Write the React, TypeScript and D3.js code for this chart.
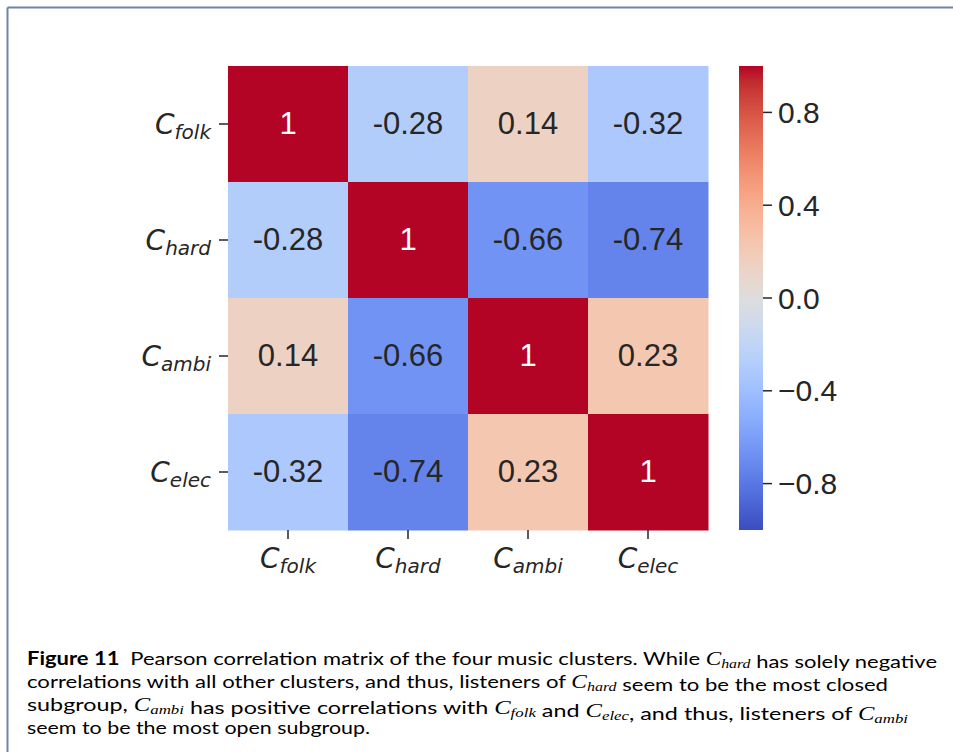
import React from "react";
import * as d3 from "d3";

const categories = ["folk", "hard", "ambi", "elec"];
const matrix = [
  [1, -0.28, 0.14, -0.32],
  [-0.28, 1, -0.66, -0.74],
  [0.14, -0.66, 1, 0.23],
  [-0.32, -0.74, 0.23, 1],
];
const cbarTicks = [-0.8, -0.4, 0.0, 0.4, 0.8];

// matplotlib coolwarm (Moreland) control points
const coolwarm = [
  [59, 76, 192], [68, 90, 204], [77, 104, 215], [87, 117, 225], [98, 130, 234],
  [108, 142, 241], [119, 154, 247], [130, 165, 251], [141, 176, 254], [152, 185, 255],
  [163, 194, 255], [174, 201, 253], [184, 208, 249], [194, 213, 244], [204, 217, 238],
  [213, 219, 230], [221, 221, 221], [229, 216, 209], [236, 211, 197], [241, 204, 184],
  [245, 196, 172], [247, 187, 160], [247, 177, 148], [247, 166, 135], [244, 154, 123],
  [241, 141, 111], [236, 127, 99], [229, 112, 89], [222, 96, 77], [213, 80, 66],
  [203, 62, 56], [192, 40, 47], [180, 4, 38],
];

const W = 953;
const H = 752;
const left = 228, right = 708, top = 66, bottom = 530;
const cbX = 739, cbW = 24, cbTop = 66, cbBottom = 530;
const TXT = "#262626";
const ARIAL = "'Liberation Sans', Arial, sans-serif";

export default function App() {
  const x = d3.scaleBand<string>().domain(categories).range([left, right]);
  const y = d3.scaleBand<string>().domain(categories).range([top, bottom]);
  const cmap = d3
    .scaleLinear<string>()
    .domain(coolwarm.map((_, i) => i / (coolwarm.length - 1)))
    .range(coolwarm.map((c) => `rgb(${c[0]},${c[1]},${c[2]})`))
    .interpolate(d3.interpolateRgb);
  const norm = d3.scaleLinear().domain([-1, 1]).range([0, 1]);
  const color = (v: number) => cmap(norm(v));
  const cb = d3.scaleLinear().domain([-1, 1]).range([cbBottom, cbTop]);
  const fmt = (v: number) => (v === 1 ? "1" : String(v));
  const textColor = (v: number) => {
    const c = d3.rgb(color(v));
    const lum = 0.2126 * c.r + 0.7152 * c.g + 0.0722 * c.b;
    return lum < 128 ? "#ffffff" : TXT;
  };

  const mathLabel = (name: string) => (
    <>
      <tspan fontSize={28}>C</tspan>
      <tspan fontSize={20} dy={5}>{name}</tspan>
    </>
  );

  const serif = "'Liberation Serif', 'DejaVu Serif', serif";
  const M = (sub: string) => (
    <>
      <tspan fontFamily={serif} fontStyle="italic" fontSize={19}>C</tspan>
      <tspan fontFamily={serif} fontStyle="italic" fontSize={13} dy={3}>{sub}</tspan>
      <tspan dy={-3}></tspan>
    </>
  );

  const capFont = "Lato, 'Open Sans', sans-serif";

  return (
    <svg
      width={W}
      height={H}
      style={{ position: "absolute", left: 0, top: 0, background: "#fff" }}
      fontFamily="'DejaVu Sans', sans-serif"
    >
      <rect x={0} y={0} width={W} height={H} fill="#fff" />
      {/* frame */}
      <line x1={7.5} y1={7.5} x2={W} y2={7.5} stroke="#6a86a3" strokeWidth={2} />
      <line x1={7.5} y1={7.5} x2={7.5} y2={H} stroke="#6a86a3" strokeWidth={2} />

      {/* cells */}
      {matrix.map((row, i) =>
        row.map((v, j) => (
          <g key={`${i}-${j}`}>
            <rect
              x={x(categories[j])!}
              y={y(categories[i])!}
              width={x.bandwidth() + 0.5}
              height={y.bandwidth() + 0.5}
              fill={color(v)}
            />
            <text
              x={x(categories[j])! + x.bandwidth() / 2}
              y={y(categories[i])! + y.bandwidth() / 2}
              dy={9.5}
              textAnchor="middle"
              fontSize={31}
              fontFamily={ARIAL}
              fill={textColor(v)}
            >
              {fmt(v)}
            </text>
          </g>
        ))
      )}

      {/* y axis */}
      {categories.map((c) => {
        const cy = y(c)! + y.bandwidth() / 2;
        return (
          <g key={"y" + c}>
            <line x1={left - 9} x2={left} y1={cy} y2={cy} stroke={TXT} strokeWidth={1.5} />
            <text x={left - 17} y={cy + 10} textAnchor="end" fill={TXT} fontStyle="italic">
              {mathLabel(c)}
            </text>
          </g>
        );
      })}

      {/* x axis */}
      {categories.map((c) => {
        const cx = x(c)! + x.bandwidth() / 2;
        return (
          <g key={"x" + c}>
            <line x1={cx} x2={cx} y1={bottom} y2={bottom + 9} stroke={TXT} strokeWidth={1.5} />
            <text x={cx} y={bottom + 38} textAnchor="middle" fill={TXT} fontStyle="italic">
              {mathLabel(c)}
            </text>
          </g>
        );
      })}

      {/* colorbar */}
      <defs>
        <linearGradient id="cbgrad" x1="0" y1="1" x2="0" y2="0">
          {coolwarm.map((c, i) => (
            <stop
              key={i}
              offset={i / (coolwarm.length - 1)}
              stopColor={`rgb(${c[0]},${c[1]},${c[2]})`}
            />
          ))}
        </linearGradient>
      </defs>
      <rect x={cbX} y={cb(1)} width={cbW} height={cb(-1) - cb(1)} fill="url(#cbgrad)" />
      {cbarTicks.map((t) => (
        <g key={"cb" + t}>
          <line x1={cbX + cbW} x2={cbX + cbW + 9} y1={cb(t)} y2={cb(t)} stroke={TXT} strokeWidth={1.5} />
          <text x={cbX + cbW + 15} y={cb(t)} dy={10.5} fontSize={30} fontFamily={ARIAL} fill={TXT}>
            {t < 0 ? "\u2212" + Math.abs(t).toFixed(1) : t.toFixed(1)}
          </text>
        </g>
      ))}

      {/* caption */}
      <g fontFamily={capFont} fontSize={18} fill="#000">
        <text x={27} y={665} textLength={910} lengthAdjust="spacingAndGlyphs">
          <tspan fontWeight="bold">Figure 11</tspan>
          <tspan>{"\u2002Pearson correlation matrix of the four music clusters. While "}</tspan>
          {M("hard")}
          <tspan>{" has solely negative"}</tspan>
        </text>
        <text x={27} y={688} textLength={861} lengthAdjust="spacingAndGlyphs">
          <tspan>{"correlations with all other clusters, and thus, listeners of "}</tspan>
          {M("hard")}
          <tspan>{" seem to be the most closed"}</tspan>
        </text>
        <text x={27} y={711} textLength={881} lengthAdjust="spacingAndGlyphs">
          <tspan>{"subgroup, "}</tspan>
          {M("ambi")}
          <tspan>{" has positive correlations with "}</tspan>
          {M("folk")}
          <tspan>{" and "}</tspan>
          {M("elec")}
          <tspan>{", and thus, listeners of "}</tspan>
          {M("ambi")}
        </text>
        <text x={27} y={734} textLength={343} lengthAdjust="spacingAndGlyphs">
          seem to be the most open subgroup.
        </text>
      </g>
    </svg>
  );
}
